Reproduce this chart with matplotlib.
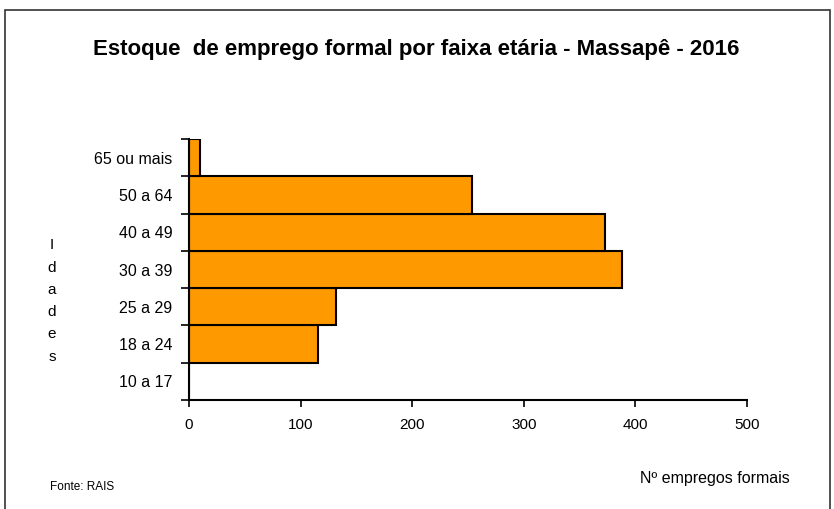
import matplotlib
matplotlib.use("Agg")
import matplotlib.pyplot as plt
import numpy as np
from matplotlib.patches import Rectangle
from matplotlib.ticker import FixedLocator, NullFormatter

faixas = ["10 a 17", "18 a 24", "25 a 29", "30 a 39", "40 a 49", "50 a 64", "65 ou mais"]
empregos = [0, 116, 132, 388, 373, 254, 10]
x_ticks = [0, 100, 200, 300, 400, 500]

plt.rcParams["font.family"] = ["Liberation Sans", "DejaVu Sans"]

fig = plt.figure(figsize=(8.34, 5.09), dpi=100)
ax = fig.add_axes([189 / 834, 1 - 400 / 509, (747 - 189) / 834, (400 - 139) / 509])

pos = np.arange(len(faixas))
ax.barh(pos, empregos, height=1.0, color="#FF9900", edgecolor="black", linewidth=1.5)

ax.set_xlim(0, 500)
ax.set_ylim(-0.5, len(faixas) - 0.5)
ax.set_xticks(x_ticks)
ax.set_xticklabels([str(v) for v in x_ticks], fontsize=11)

# category labels centred in bands, tick marks at band edges
ax.yaxis.set_major_locator(FixedLocator(np.arange(len(faixas) + 1) - 0.5))
ax.yaxis.set_major_formatter(NullFormatter())
ax.yaxis.set_minor_locator(FixedLocator(pos))
ax.set_yticklabels(faixas, minor=True, fontsize=11.5)
ax.tick_params(axis="y", which="minor", length=0, pad=12)
ax.tick_params(axis="y", which="major", length=6, width=1.2, direction="out")
ax.tick_params(axis="x", length=5, width=1.2, direction="out", pad=8)

for s in ["top", "right"]:
    ax.spines[s].set_visible(False)
for s in ["left", "bottom"]:
    ax.spines[s].set_linewidth(1.5)

fig.text(416 / 834, 1 - 50 / 509, "Estoque  de emprego formal por faixa etária - Massapê - 2016",
         ha="center", va="center", fontsize=16, fontweight="bold")
fig.text(52 / 834, 1 - 301 / 509, "I\nd\na\nd\ne\ns", ha="center", va="center",
         fontsize=11, linespacing=1.75)
fig.text(50 / 834, 1 - 487 / 509, "Fonte: RAIS", ha="left", va="center", fontsize=8.5)
fig.text(790 / 834, 1 - 479 / 509, "Nº empregos formais", ha="right", va="center", fontsize=11.5)

fig.patches.append(Rectangle((5 / 834, -0.05), 825 / 834, 1.05 - 10 / 509, transform=fig.transFigure,
                             fill=False, edgecolor="#333333", linewidth=1.2))

fig.savefig("out.png", dpi=100)
